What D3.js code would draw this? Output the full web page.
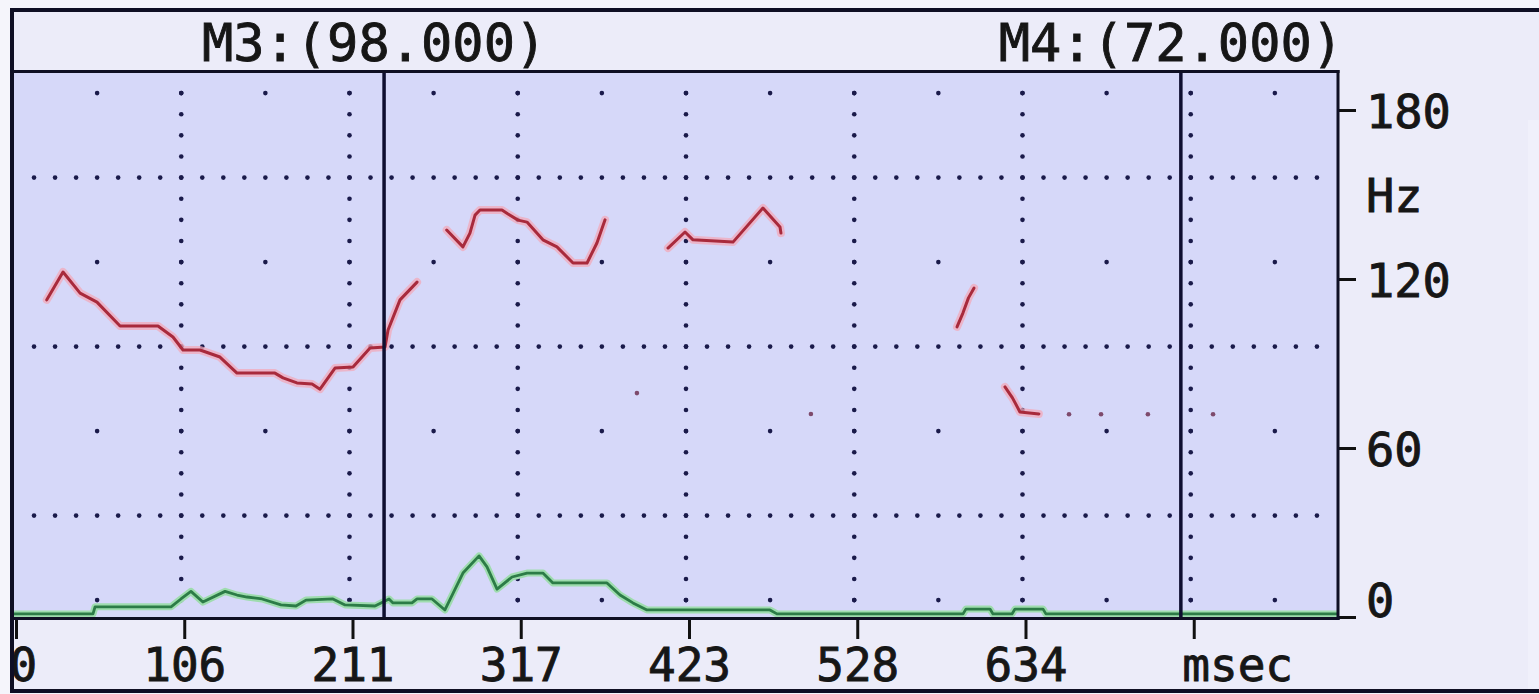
<!DOCTYPE html>
<html>
<head>
<meta charset="utf-8">
<script src="https://cdn.jsdelivr.net/npm/d3@7"></script>
<style>
html, body { margin: 0; padding: 0; background: #f5f5fb; overflow: hidden; }
svg { display: block; }
text { font-family: "DejaVu Sans Mono", "Liberation Mono", monospace; fill: #161616; stroke: #161616; stroke-width: 0.9px; }
</style>
</head>
<body>
<svg id="chart"></svg>
<script>
// pitch track pieces, [msec, Hz]
const pitchA = [[21.2,112.6],[31.4,122.5],[42.1,115.0],[52.7,111.8],[67.2,103.3],[91.0,103.3],[100.4,99.4],
  [106.7,94.8],[117.4,94.8],[129.9,92.3],[140.6,86.6],[164.4,86.6],[169.5,84.9],[178.2,83.1],[187.7,82.7],
  [192.7,80.9],[202.1,88.4],[213.4,88.8],[224.1,95.5],[233.5,95.9],[235.4,101.9],[242.9,112.6],[253.6,118.9]];
const pitchB = [[272.2,137.4],[282.4,131.4],[286.8,136.3],[290.0,142.7],[293.1,144.5],[306.9,144.5],[310.7,143.1],
  [317.0,140.9],[322.6,140.2],[332.6,133.9],[341.4,131.4],[351.5,125.7],[360.3,125.7],[366.5,132.8],[371.6,141.0]];
const pitchC = [[411.1,131.0],[421.8,136.7],[426.8,133.9],[451.9,133.1],[470.7,145.2],[481.4,138.5],[482.0,136.3]];
const pitchD = [[592.5,103.0],[596.2,107.9],[599.7,113.3],[603.2,116.8]];
const pitchE = [[622.6,81.7],[627.3,77.8],[632.0,72.8],[643.9,72.1]];
const pitchDots = [[391.6,79.5],[500.8,72.1],[662.8,72],[682.9,72],[712.3,72],[753.2,72]];

// green trace along the bottom, [msec, value]
const ampTrace = [[0,1.1],[50.2,1.1],[51.5,3.6],[99.2,3.6],[105.4,6.4],[111.7,9.1],[119.2,5.3],[133.1,9.1],
  [140.6,7.8],[146.9,7.1],[156.3,6.4],[168.2,4.3],[177.6,3.9],[183.9,6.0],[200.8,6.4],[208.4,4.3],[227.2,3.9],
  [236.0,6.4],[238.5,5.0],[250.4,5.0],[253.6,6.4],[263.0,6.4],[271.1,2.5],[282.4,15.6],[292.5,21.7],[297.5,17.8],
  [303.8,9.9],[313.2,14.2],[322.6,15.6],[332.6,15.6],[338.9,12.1],[372.8,12.1],[381.0,7.8],[389.1,5.0],
  [397.9,2.5],[475.1,2.5],[479.5,1.1],[596.3,1.1],[598.1,2.8],[613.2,2.8],[615.1,1.1],[627.0,1.1],[628.9,2.8],
  [646.5,2.8],[648.3,1.1],[831,1.1]];

const cursors = [{ name: 'M3', ms: 232.9, value: '98.000' }, { name: 'M4', ms: 733, value: '72.000' }];
const xTickValues = [0, 105.6, 211.2, 316.8, 422.4, 528, 633.6, 739.2];
const xTickLabels = ['0', '106', '211', '317', '423', '528', '634', 'msec'];
const yTickValues = [0, 60, 120, 180];
const yTickLabels = ['0', '60', '120', '180'];
const yUnit = { label: 'Hz', at: 150 };

const W = 1539, H = 694;
const svg = d3.select('#chart').attr('width', W).attr('height', H);

const x = d3.scaleLinear().domain([0, 831]).range([13, 1337]);
const y = d3.scaleLinear().domain([0, 193.5]).range([617, 72]);

// panel backgrounds
svg.append('rect').attr('x', 12).attr('y', 10).attr('width', W - 12).attr('height', 681).attr('fill', '#ececf9');
svg.append('rect').attr('x', 1528).attr('y', 120).attr('width', 11).attr('height', 570).attr('fill', '#f0f0fb');
svg.append('rect').attr('x', 13).attr('y', 72).attr('width', 1325).attr('height', 546).attr('fill', '#d6d8f9');

// dotted grid
const gridCols = d3.range(52.8, 831, 52.8);
const gridRows = d3.range(6, 190, 30);
const isMajorCol = (i) => i % 2 === 1;
const isMajorRow = (i) => i % 2 === 1;
const dots = [];
gridRows.forEach((h, i) => {
  if (isMajorRow(i)) d3.range(13.2, 828, 13.2).forEach(t => dots.push([t, h]));
  else gridCols.forEach(t => dots.push([t, h]));
});
gridCols.forEach((t, i) => {
  if (isMajorCol(i)) d3.range(6, 190, 7.5).forEach(h => dots.push([t, h]));
});
svg.append('g')
  .selectAll('circle')
  .data(dots)
  .enter().append('circle')
  .attr('cx', d => x(d[0]))
  .attr('cy', d => y(d[1]))
  .attr('r', 2.3)
  .attr('fill', '#1a1a4a');

const line = d3.line().x(d => x(d[0])).y(d => y(d[1]));

// green trace
const amp = svg.append('g').attr('fill', 'none').attr('stroke-linejoin', 'round');
amp.append('path').attr('d', line(ampTrace)).attr('stroke', '#9edcae').attr('stroke-width', 7);
amp.append('path').attr('d', line(ampTrace)).attr('stroke', '#2c7c47').attr('stroke-width', 2.8);

// pitch track
const pitchSegs = [pitchA, pitchB, pitchC, pitchD, pitchE];
const pitch = svg.append('g').attr('fill', 'none').attr('stroke-linejoin', 'round').attr('stroke-linecap', 'round');
pitchSegs.forEach(seg => {
  pitch.append('path').attr('d', line(seg)).attr('stroke', '#f1a9ba').attr('stroke-width', 8).attr('stroke-opacity', 0.75);
});
pitchSegs.forEach(seg => {
  pitch.append('path').attr('d', line(seg)).attr('stroke', '#a82a3c').attr('stroke-width', 3);
});
svg.append('g')
  .selectAll('circle')
  .data(pitchDots)
  .enter().append('circle')
  .attr('cx', d => x(d[0]))
  .attr('cy', d => y(d[1]))
  .attr('r', 2.3)
  .attr('fill', '#7e4a6c');

// cursors and their readouts
svg.append('g')
  .selectAll('line')
  .data(cursors)
  .enter().append('line')
  .attr('x1', d => x(d.ms)).attr('x2', d => x(d.ms))
  .attr('y1', 72).attr('y2', 618)
  .attr('stroke', '#0e0e30').attr('stroke-width', 3.5);
svg.append('g')
  .selectAll('text')
  .data(cursors)
  .enter().append('text')
  .attr('x', d => x(d.ms) - 10)
  .attr('y', 61)
  .attr('text-anchor', 'middle')
  .attr('font-size', 52)
  .text(d => `${d.name}:(${d.value})`);

// x axis
const xAxis = svg.append('g')
  .attr('transform', 'translate(3,619)')
  .call(d3.axisBottom(x).tickValues(xTickValues).tickFormat((d, i) => xTickLabels[i]).tickSize(20));
xAxis.select('.domain').remove();
xAxis.selectAll('.tick line').attr('stroke', '#111').attr('stroke-width', 3);
xAxis.selectAll('.tick text')
  .attr('y', 62).attr('dy', null)
  .attr('font-size', 46).attr('font-family', null).attr('fill', null)
  .attr('text-anchor', (d, i) => (i === 0 || i === xTickLabels.length - 1) ? 'start' : 'middle')
  .attr('dx', (d, i) => i === 0 ? -7 : (i === xTickLabels.length - 1 ? -12 : 0));

// y axis
const yAxis = svg.append('g')
  .attr('transform', 'translate(1338,0)')
  .call(d3.axisRight(y).tickValues(yTickValues).tickFormat((d, i) => yTickLabels[i]).tickSize(18).tickPadding(10));
yAxis.select('.domain').remove();
yAxis.selectAll('.tick line').attr('stroke', '#111').attr('stroke-width', 3);
yAxis.selectAll('.tick text')
  .attr('dy', null)
  .attr('y', d => d === 0 ? -1 : 17)
  .attr('font-size', 47).attr('font-family', null).attr('fill', null);
svg.append('text')
  .attr('x', 1366).attr('y', y(yUnit.at) + 17)
  .attr('font-size', 47)
  .text(yUnit.label);

// frame
const frame = svg.append('g').attr('stroke', '#0f0f24');
frame.append('line').attr('x1', 10).attr('x2', W).attr('y1', 10).attr('y2', 10).attr('stroke-width', 4);
frame.append('line').attr('x1', 10).attr('x2', W).attr('y1', 691).attr('y2', 691).attr('stroke-width', 4);
frame.append('line').attr('x1', 12).attr('x2', 12).attr('y1', 8).attr('y2', 693).attr('stroke-width', 4);
frame.append('line').attr('x1', 12).attr('x2', 1339.5).attr('y1', 71.5).attr('y2', 71.5).attr('stroke-width', 3);
frame.append('line').attr('x1', 12).attr('x2', 1339.5).attr('y1', 618.5).attr('y2', 618.5).attr('stroke-width', 3);
frame.append('line').attr('x1', 1338).attr('x2', 1338).attr('y1', 70).attr('y2', 620).attr('stroke-width', 3);
</script>
</body>
</html>
